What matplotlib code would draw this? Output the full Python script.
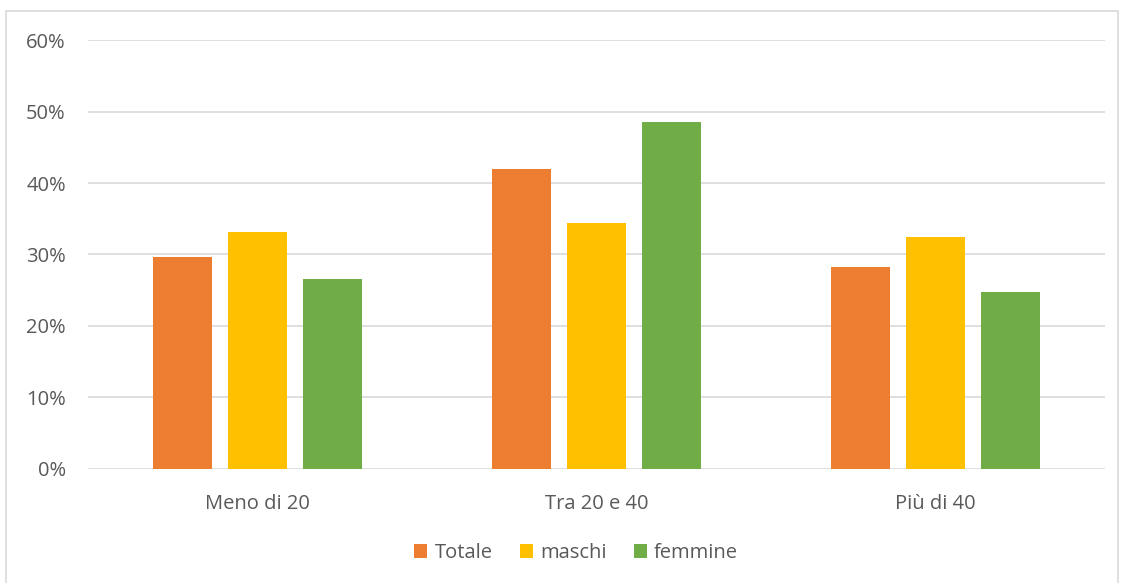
import matplotlib.pyplot as plt
import matplotlib.patches as mpatches
from matplotlib.ticker import PercentFormatter
import numpy as np

# Quote per fascia d'eta
categories = ["Meno di 20", "Tra 20 e 40", "Più di 40"]
series_names = ["Totale", "maschi", "femmine"]
totale = [0.297, 0.420, 0.283]
maschi = [0.331, 0.344, 0.325]
femmine = [0.266, 0.486, 0.247]
yticks = [0, 0.1, 0.2, 0.3, 0.4, 0.5, 0.6]

colors = ["#ED7D31", "#FFC000", "#70AD47"]
text_color = "#595959"
grid_color = "#D9D9D9"

plt.rcParams['font.family'] = ['Open Sans', 'DejaVu Sans']

fig = plt.figure(figsize=(11.24, 5.83), dpi=100)
ax = fig.add_axes([0.0783, 0.196, 0.9047, 0.735])

x = np.arange(len(categories))
width = 0.175
step = 0.222
for i, (vals, name) in enumerate(zip([totale, maschi, femmine], series_names)):
    ax.bar(x + (i - 1) * step, vals, width, color=colors[i], label=name, zorder=3)

ax.set_xlim(-0.5, len(categories) - 0.5)
ax.set_ylim(0, 0.6)
ax.set_yticks(yticks)
ax.yaxis.set_major_formatter(PercentFormatter(1.0, decimals=0))
ax.set_xticks(x)
ax.set_xticklabels(categories)
ax.tick_params(axis='both', length=0, labelsize=14.5, colors=text_color)
ax.tick_params(axis='y', pad=16)
ax.tick_params(axis='x', pad=18)
ax.grid(axis='y', color=grid_color, linewidth=1.2, zorder=0)
for s in ax.spines.values():
    s.set_visible(False)

# Legend under the axis
ax.legend(loc='center', bbox_to_anchor=(576 / 1124, 1 - 553 / 583),
          bbox_transform=fig.transFigure, ncol=3, frameon=False,
          fontsize=14.5, labelcolor=text_color, handlelength=0.65,
          handleheight=0.65, handletextpad=0.35, columnspacing=1.35)

# Chart border
fig.patches.append(mpatches.Rectangle((6 / 1124, -0.05), 1112 / 1124, 1.05 - 11 / 583,
                                      transform=fig.transFigure, fill=False,
                                      edgecolor=grid_color, linewidth=1.2))

fig.savefig("out.png", dpi=100)
